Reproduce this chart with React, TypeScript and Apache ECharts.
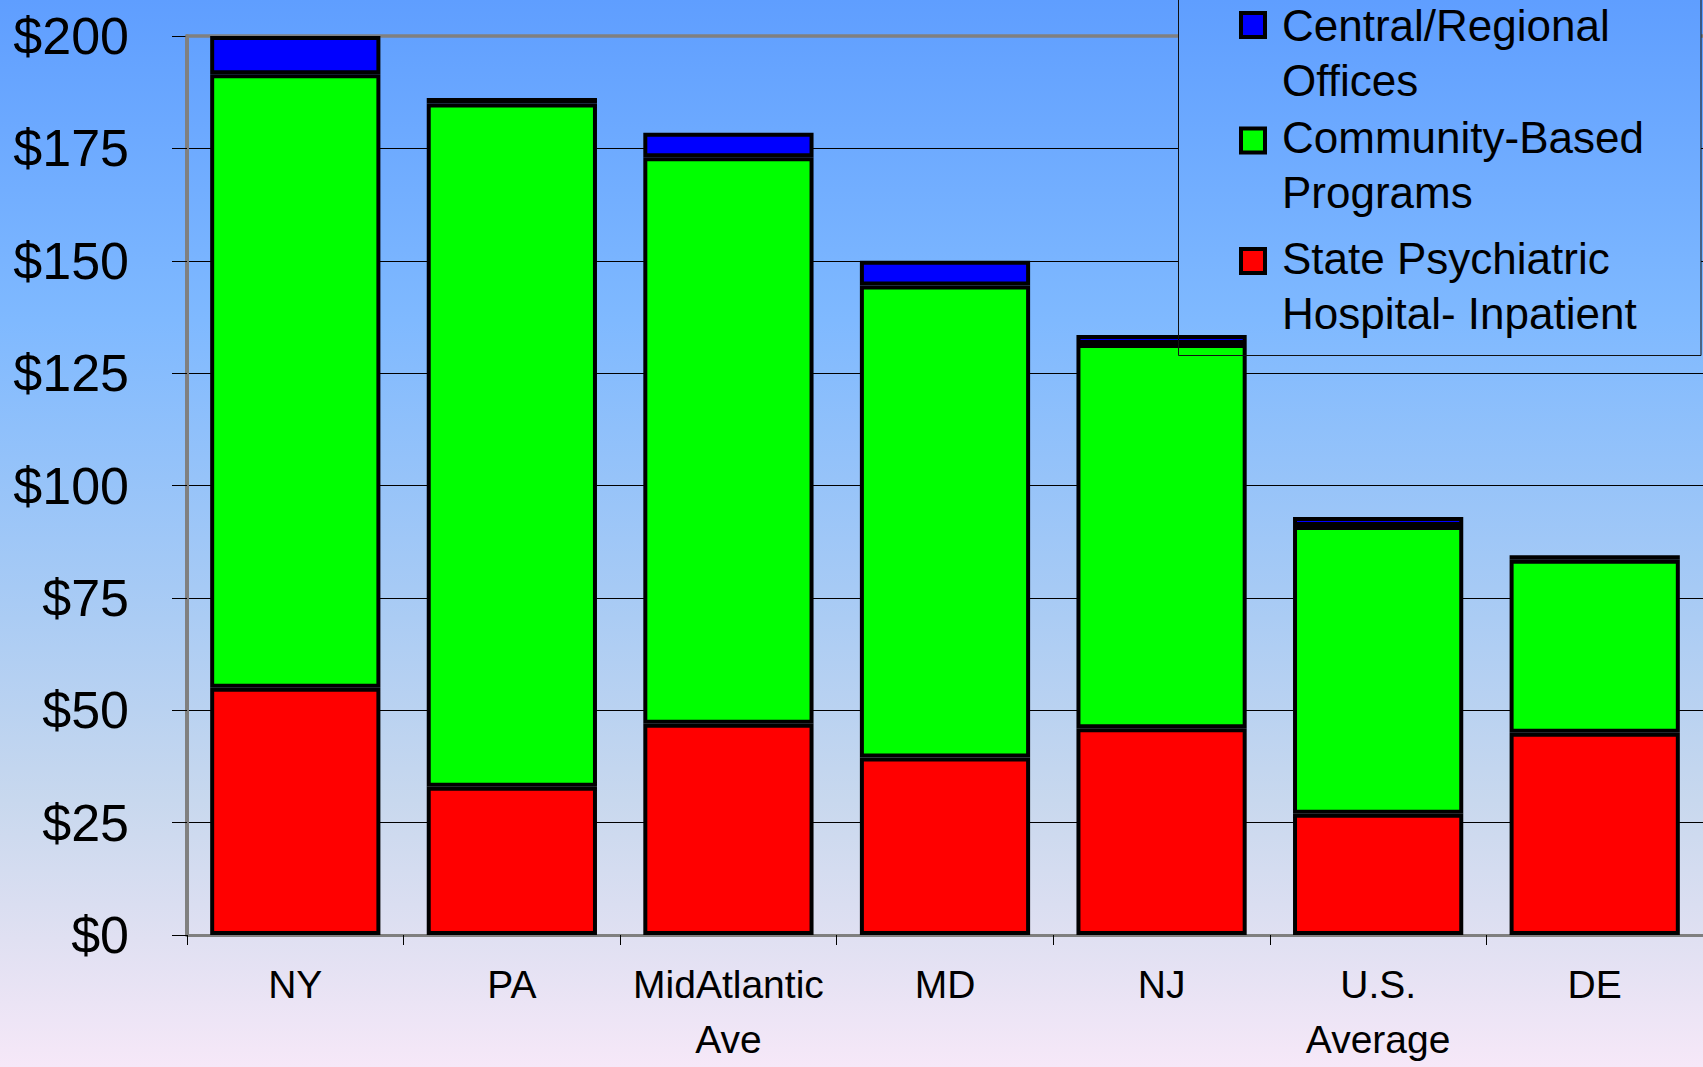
import React, { useEffect, useRef } from "react";
import * as echarts from "echarts";

// ---- Data ----
const categories = ["NY", "PA", "MidAtlantic\nAve", "MD", "NJ", "U.S.\nAverage", "DE"];
const stateHospitalInpatient = [55, 33, 47, 39.5, 46, 27, 45];
const communityBasedPrograms = [136.5, 152, 126, 105, 85.5, 64, 38.5];
const centralRegionalOffices = [8.5, 1.2, 5.5, 5.5, 2, 2, 1];
const yMin = 0;
const yMax = 200;
const yInterval = 25;

const seriesNames = [
  "State Psychiatric Hospital- Inpatient",
  "Community-Based Programs",
  "Central/Regional Offices",
];
// legend text as it is wrapped in the reference
const legendLines = [
  ["State Psychiatric", "Hospital- Inpatient"],
  ["Community-Based", "Programs"],
  ["Central/Regional", "Offices"],
];
const seriesColors = ["#ff0000", "#00ff00", "#0000ff"];

// legend shown top-to-bottom
const legendOrder = [2, 1, 0];

const FONT = '"Liberation Sans", Arial, Helvetica, sans-serif';

const bgStops = [
  { offset: 0, color: "#5f9eff" },
  { offset: 0.3, color: "#7fb9ff" },
  { offset: 0.55, color: "#a6caf5" },
  { offset: 0.75, color: "#c8d8ee" },
  { offset: 0.88, color: "#e0e0f2" },
  { offset: 1, color: "#f6e8f8" },
];

export default function App() {
  const ref = useRef<HTMLDivElement | null>(null);

  useEffect(() => {
    if (!ref.current) return;
    const chart = echarts.init(ref.current, undefined, { renderer: "svg" });

    const bgGlobal = new echarts.graphic.LinearGradient(0, 0, 0, 1067, bgStops, true);
    const bgGlobal2 = new echarts.graphic.LinearGradient(0, 0, 0, 1067, bgStops, true);

    const legendLeft = 1178.5;
    const legendRight = 1701;
    const legendBottom = 355.5;
    const symbolCenters = [25, 140.5, 261];
    const lineCenters = [25, 137.5, 258.5];
    const lineGap = 55;

    const legendGraphics: any[] = [
      {
        type: "rect",
        z: 2,
        silent: true,
        shape: { x: legendLeft, y: -10, width: legendRight - legendLeft, height: legendBottom + 10 },
        style: { fill: bgGlobal2, stroke: "none" },
      },
      {
        type: "rect",
        z: 10,
        silent: true,
        shape: { x: legendLeft, y: -10, width: legendRight - legendLeft, height: legendBottom + 10 },
        style: { fill: "none", stroke: "#111", lineWidth: 1 },
      },
    ];
    legendOrder.forEach((si, i) => {
      legendGraphics.push({
        type: "rect",
        z: 10,
        silent: true,
        shape: { x: 1241, y: symbolCenters[i] - 12, width: 24, height: 24 },
        style: { fill: seriesColors[si], stroke: "#000", lineWidth: 4 },
      });
      legendLines[si].forEach((line, li) => {
        legendGraphics.push({
          type: "text",
          z: 10,
          silent: true,
          x: 1282,
          y: lineCenters[i] + li * lineGap,
          style: {
            text: line,
            fontSize: 44,
            fontFamily: FONT,
            lineHeight: 40,
            fill: "#000",
            verticalAlign: "middle",
            align: "left",
          },
        });
      });
    });

    const dataSets = [stateHospitalInpatient, communityBasedPrograms, centralRegionalOffices];

    chart.setOption({
      animation: false,
      backgroundColor: bgGlobal,
      textStyle: { fontFamily: FONT },
      grid: { left: 187, top: 36, width: 1523, height: 905, containLabel: false },
      xAxis: [
        {
          type: "category",
          data: categories,
          position: "bottom",
          axisLine: { show: true, lineStyle: { color: "#7f7f7f", width: 3 } },
          axisTick: { show: true, length: 10, lineStyle: { color: "#000", width: 1 } },
          axisLabel: {
            show: true,
            interval: 0,
            fontSize: 39,
            lineHeight: 55,
            margin: 22,
            color: "#000",
            fontFamily: FONT,
          },
          splitLine: { show: false },
        },
        {
          type: "category",
          data: categories,
          position: "top",
          z: 1,
          axisLine: { show: true, lineStyle: { color: "#808080", width: 3.5 } },
          axisTick: { show: false },
          axisLabel: { show: false },
          splitLine: { show: false },
        },
      ],
      yAxis: {
        type: "value",
        min: yMin,
        max: yMax,
        interval: yInterval,
        axisLine: { show: true, lineStyle: { color: "#808080", width: 4 } },
        axisTick: { show: true, length: 15, lineStyle: { color: "#000", width: 1 } },
        axisLabel: {
          formatter: (v: number) => "$" + v,
          fontSize: 52,
          margin: 58,
          color: "#000",
          fontFamily: FONT,
        },
        splitLine: { show: true, lineStyle: { color: "#000", width: 1 } },
      },
      series: dataSets.map((d, i) => ({
        type: "bar",
        name: seriesNames[i],
        stack: "total",
        xAxisIndex: 0,
        z: 3,
        barCategoryGap: "21.4%",
        data: d,
        itemStyle: { color: seriesColors[i], borderColor: "#000", borderWidth: 4 },
        emphasis: { disabled: true },
      })),
      graphic: legendGraphics,
    });

    return () => {
      chart.dispose();
    };
  }, []);

  return (
    <div
      ref={ref}
      style={{ position: "fixed", left: 0, top: 0, width: 1703, height: 1067 }}
    />
  );
}
